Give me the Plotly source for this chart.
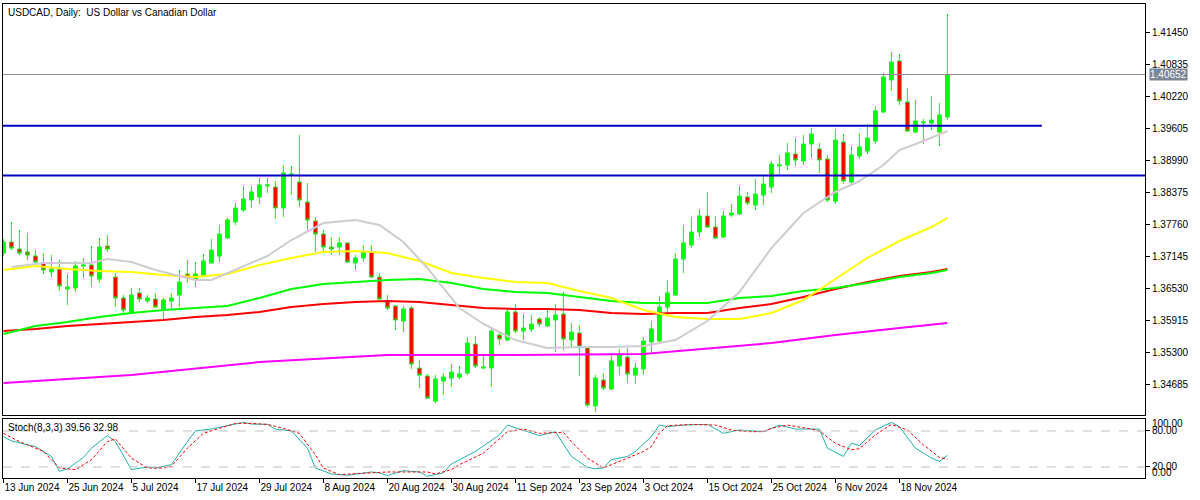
import plotly.graph_objects as go

# ---------------- data ----------------
opens = [1.37221, 1.37433, 1.37298, 1.37241, 1.37164, 1.37029, 1.36857, 1.36914, 1.36529, 1.36549,
         1.36972, 1.36991, 1.36722, 1.37356, 1.36760, 1.36357, 1.36087, 1.36453, 1.36299, 1.36337,
         1.36145, 1.36299, 1.36414, 1.36818, 1.36722, 1.36799, 1.37029, 1.37164, 1.37510, 1.37818,
         1.38048, 1.38240, 1.38298, 1.38509, 1.38490, 1.38086, 1.38720, 1.38586, 1.38201, 1.37837,
         1.37587, 1.37337, 1.37337, 1.37414, 1.37029, 1.37126, 1.37241, 1.36760, 1.36299, 1.36203,
         1.35914, 1.36164, 1.35011, 1.34857, 1.34377, 1.34761, 1.34819, 1.34838, 1.34915, 1.35472,
         1.35011, 1.35011, 1.35645, 1.35549, 1.36087, 1.35722, 1.35761, 1.35953, 1.35818, 1.35934,
         1.36049, 1.35549, 1.35684, 1.35395, 1.34281, 1.34780, 1.34607, 1.35050, 1.35222, 1.34876,
         1.34992, 1.35511, 1.35530, 1.36184, 1.36414, 1.37106, 1.37375, 1.37625, 1.37933, 1.37721,
         1.37529, 1.37952, 1.37971, 1.38298, 1.38144, 1.38336, 1.38490, 1.38894, 1.38913, 1.39124,
         1.38990, 1.39316, 1.39220, 1.39028, 1.38221, 1.39355, 1.38586, 1.39086, 1.39182, 1.39374,
         1.39931, 1.40546, 1.40912, 1.40124, 1.39547, 1.39720, 1.39720, 1.39547, 1.39836]
highs = [1.37491, 1.37818, 1.37664, 1.37606, 1.37279, 1.37221, 1.37183, 1.37087, 1.36818, 1.37068,
         1.37126, 1.37356, 1.37510, 1.37568, 1.36837, 1.36414, 1.36549, 1.36549, 1.36414, 1.36453,
         1.36357, 1.36453, 1.36895, 1.37087, 1.37049, 1.37202, 1.37491, 1.37760, 1.37894, 1.38182,
         1.38509, 1.38509, 1.38663, 1.38663, 1.38605, 1.38913, 1.38894, 1.39489, 1.38567, 1.37914,
         1.37664, 1.37529, 1.37529, 1.37433, 1.37183, 1.37375, 1.37375, 1.36837, 1.36414, 1.36222,
         1.36203, 1.36203, 1.35165, 1.34896, 1.34876, 1.34915, 1.35088, 1.35050, 1.35607, 1.35626,
         1.35261, 1.35799, 1.35722, 1.36164, 1.36241, 1.36049, 1.36030, 1.35991, 1.36164, 1.36241,
         1.36472, 1.35876, 1.35838, 1.35415, 1.34876, 1.34915, 1.35261, 1.35376, 1.35395, 1.35107,
         1.35607, 1.35914, 1.36395, 1.36703, 1.37221, 1.37760, 1.37914, 1.38067, 1.38394, 1.37933,
         1.38029, 1.38163, 1.38509, 1.38394, 1.38644, 1.38721, 1.38990, 1.39105, 1.39336, 1.39432,
         1.39489, 1.39624, 1.39336, 1.39105, 1.39605, 1.39508, 1.39278, 1.39528, 1.39701, 1.40047,
         1.40681, 1.41084, 1.41046, 1.40393, 1.40162, 1.39797, 1.40239, 1.40105, 1.41815]
lows = [1.37164, 1.37279, 1.37183, 1.37087, 1.37029, 1.36818, 1.36760, 1.36491, 1.36222, 1.36472,
        1.36741, 1.36568, 1.36645, 1.37241, 1.36184, 1.36068, 1.36068, 1.36280, 1.36260, 1.36164,
        1.35934, 1.36126, 1.36184, 1.36645, 1.36568, 1.36760, 1.37029, 1.37049, 1.37491, 1.37760,
        1.38009, 1.38086, 1.38163, 1.38375, 1.37875, 1.37914, 1.38336, 1.38105, 1.37664, 1.37241,
        1.37241, 1.37183, 1.37183, 1.37029, 1.36895, 1.37049, 1.36741, 1.36318, 1.36126, 1.35741,
        1.35703, 1.34992, 1.34627, 1.34415, 1.34338, 1.34492, 1.34646, 1.34800, 1.34876, 1.35011,
        1.34992, 1.34646, 1.35453, 1.35530, 1.35684, 1.35549, 1.35703, 1.35799, 1.35799, 1.35318,
        1.35357, 1.35395, 1.34857, 1.34261, 1.34166, 1.34588, 1.34588, 1.34876, 1.34723, 1.34703,
        1.34876, 1.35299, 1.35511, 1.35991, 1.36395, 1.36837, 1.37317, 1.37529, 1.37702, 1.37491,
        1.37510, 1.37914, 1.37952, 1.38144, 1.38048, 1.38144, 1.38375, 1.38721, 1.38817, 1.38894,
        1.38913, 1.39047, 1.38759, 1.38201, 1.38163, 1.38547, 1.38509, 1.39028, 1.39124, 1.39316,
        1.39912, 1.40335, 1.40066, 1.39547, 1.39528, 1.39317, 1.39585, 1.39278, 1.39778]
closes = [1.37433, 1.37317, 1.37221, 1.37183, 1.37049, 1.36895, 1.36914, 1.36587, 1.36568, 1.36972,
          1.36991, 1.36780, 1.37337, 1.37298, 1.36357, 1.36126, 1.36414, 1.36337, 1.36357, 1.36184,
          1.36318, 1.36357, 1.36664, 1.36741, 1.36818, 1.37068, 1.37279, 1.37587, 1.37856, 1.38086,
          1.38259, 1.38394, 1.38528, 1.38528, 1.38086, 1.38759, 1.38740, 1.38240, 1.37856, 1.37587,
          1.37337, 1.37298, 1.37414, 1.37049, 1.37126, 1.37241, 1.36760, 1.36337, 1.36164, 1.35934,
          1.36145, 1.35088, 1.34876, 1.34434, 1.34800, 1.34838, 1.34934, 1.34896, 1.35492, 1.35050,
          1.35030, 1.35722, 1.35568, 1.36087, 1.35722, 1.35780, 1.35857, 1.35857, 1.35972, 1.36030,
          1.35568, 1.35703, 1.35415, 1.34300, 1.34819, 1.34627, 1.35145, 1.35261, 1.34896, 1.35011,
          1.35530, 1.35761, 1.36184, 1.36453, 1.37106, 1.37414, 1.37625, 1.37933, 1.37721, 1.37510,
          1.37933, 1.37991, 1.38317, 1.38182, 1.38355, 1.38547, 1.38932, 1.38913, 1.39144, 1.39009,
          1.39316, 1.39508, 1.39009, 1.38240, 1.39393, 1.38605, 1.39105, 1.39259, 1.39432, 1.39951,
          1.40604, 1.40892, 1.40143, 1.39566, 1.39759, 1.39739, 1.39778, 1.39874, 1.40652]

tick_bars = [0, 8, 16, 24, 32, 40, 48, 56, 64, 72, 80, 88, 96, 104, 112]
tick_labels = ["13 Jun 2024", "25 Jun 2024", "5 Jul 2024", "17 Jul 2024", "29 Jul 2024",
               "8 Aug 2024", "20 Aug 2024", "30 Aug 2024", "11 Sep 2024", "23 Sep 2024",
               "3 Oct 2024", "15 Oct 2024", "25 Oct 2024", "6 Nov 2024", "18 Nov 2024"]
price_ticks = [1.34685, 1.35300, 1.35915, 1.36530, 1.37145, 1.37760,
               1.38375, 1.38990, 1.39605, 1.40220, 1.40835, 1.41450]

gray_bars = [1, 5, 8, 11, 13, 14, 16, 19, 22, 24, 26, 29, 33, 36, 40, 44, 47, 50, 53, 57,
             60, 64, 68, 72, 76, 80, 84, 88, 92, 96, 100, 104, 107, 110, 112, 115, 118]
gray_vals = [1.36953, 1.37029, 1.37029, 1.37029, 1.37106, 1.37087, 1.37049, 1.36895, 1.36780, 1.36703,
             1.36703, 1.36895, 1.37164, 1.37471, 1.37798, 1.37856, 1.37760, 1.37433, 1.36934, 1.36164,
             1.35857, 1.35549, 1.35395, 1.35415, 1.35415, 1.35434, 1.35549, 1.35914, 1.36472, 1.37317,
             1.37990, 1.38394, 1.38605, 1.38913, 1.39201, 1.39374, 1.39566]
ma_bars = [0, 4, 8, 12, 16, 20, 24, 28, 32, 36, 40, 44, 48, 52, 56, 60, 64, 68, 72, 76,
           80, 84, 88, 92, 96, 100, 104, 108, 112, 116, 118]
yellow_vals = [1.36895, 1.36972, 1.36914, 1.36876, 1.36857, 1.36799, 1.36760, 1.36818, 1.36991, 1.37126,
               1.37241, 1.37260, 1.37221, 1.37068, 1.36837, 1.36741, 1.36664, 1.36645, 1.36491, 1.36357,
               1.36126, 1.35991, 1.35953, 1.35953, 1.36068, 1.36318, 1.36722, 1.37126, 1.37452, 1.37721,
               1.37894]
lime_vals = [1.35664, 1.35818, 1.35895, 1.35991, 1.36068, 1.36126, 1.36164, 1.36203, 1.36357, 1.36529,
             1.36626, 1.36664, 1.36703, 1.36722, 1.36645, 1.36529, 1.36472, 1.36453, 1.36376, 1.36299,
             1.36260, 1.36260, 1.36260, 1.36357, 1.36395, 1.36491, 1.36549, 1.36645, 1.36760, 1.36837,
             1.36895]
red_vals = [1.35722, 1.35761, 1.35818, 1.35857, 1.35895, 1.35934, 1.35991, 1.36030, 1.36087, 1.36184,
            1.36241, 1.36280, 1.36299, 1.36280, 1.36222, 1.36164, 1.36145, 1.36145, 1.36126, 1.36068,
            1.36049, 1.36068, 1.36068, 1.36164, 1.36241, 1.36376, 1.36529, 1.36664, 1.36780, 1.36857,
            1.36914]
magenta_bars = [0, 16, 32, 48, 64, 80, 96, 104, 112, 118]
magenta_vals = [1.34723, 1.34876, 1.35126, 1.35261, 1.35261, 1.35280, 1.35492, 1.35645, 1.35780, 1.35876]

blue_levels = [1.39668, 1.38709]
blue_starts = [-0.05, -0.05]
blue_ends = [129.8, 142.7]

k_bars = [0, 1, 4, 6, 7, 8, 10, 11, 13, 14, 16, 18, 19, 21, 23, 24, 26, 28, 30, 31,
          33, 34, 36, 38, 39, 41, 43, 46, 47, 48, 50, 52, 53, 55, 56, 59, 62, 63, 65, 67,
          69, 71, 73, 74, 75, 76, 78, 79, 81, 82, 83, 85, 88, 90, 92, 95, 97, 99, 102, 103,
          105, 106, 107, 109, 111, 112, 114, 116, 117, 118]
k_vals = [70.6, 63.5, 54.0, 37.6, 12.8, 16.7, 36.0, 51.4, 72.3, 62.4, 15.6, 20.0, 18.3, 23.9, 62.4, 80.0, 83.3, 88.3, 94.3, 91.6,
          91.0, 83.3, 80.0, 51.4, 18.3, 8.4, 6.2, 11.7, 10.1, 5.7, 13.9, 11.7, 4.6, 10.1, 25.0, 45.9, 73.4, 89.9, 81.7, 72.3,
          78.9, 37.6, 19.4, 17.0, 18.3, 32.1, 37.6, 45.9, 70.6, 89.9, 87.2, 89.9, 91.0, 76.1, 81.7, 78.9, 89.9, 83.3, 83.3, 51.4,
          37.6, 59.6, 55.8, 81.7, 94.3, 87.2, 51.4, 34.9, 29.4, 39.56]
d_bars = [0, 2, 5, 7, 9, 11, 13, 14, 16, 18, 20, 21, 23, 25, 27, 29, 31, 33, 35, 37,
          39, 40, 42, 45, 48, 50, 53, 54, 56, 57, 60, 63, 65, 67, 70, 71, 73, 75, 76, 78,
          80, 81, 82, 83, 86, 89, 91, 93, 95, 96, 98, 101, 102, 104, 106, 107, 109, 111, 113, 115,
          116, 117, 118]
d_vals = [76.1, 62.4, 45.9, 18.3, 15.6, 32.1, 62.4, 66.8, 34.9, 18.3, 18.3, 21.1, 51.4, 76.1, 84.4, 92.7, 92.7, 91.0, 84.4, 76.1,
          40.4, 18.3, 7.3, 10.1, 11.7, 11.7, 11.7, 8.4, 15.6, 23.9, 43.1, 78.9, 83.3, 76.1, 77.8, 62.4, 34.9, 18.3, 23.9, 34.9,
          45.9, 54.1, 76.1, 88.8, 91.0, 89.9, 81.7, 78.9, 78.9, 84.4, 89.9, 83.3, 80.0, 59.6, 48.7, 50.5, 73.4, 91.0, 81.7, 56.9,
          45.9, 36.0, 32.98]
stoch_levels = [20, 80]
stoch_label_vals = [20, 80]

# ---------------- figure ----------------
FONT = "Liberation Sans"
bars = list(range(len(opens)))
x_range = [-0.05, 142.7]

fig = go.Figure()

fig.add_trace(go.Candlestick(
    x=bars, open=opens, high=highs, low=lows, close=closes,
    increasing=dict(line=dict(color="#00FF00", width=1), fillcolor="#00FF00"),
    decreasing=dict(line=dict(color="#00FF00", width=1), fillcolor="#FF0000"),
    whiskerwidth=0, xaxis="x", yaxis="y", showlegend=False, hoverinfo="skip"))

for xs, ys, col in [(magenta_bars, magenta_vals, "#FF00FF"),
                    (ma_bars, red_vals, "#FF0000"),
                    (ma_bars, lime_vals, "#00FF00"),
                    (ma_bars, yellow_vals, "#FFFF00"),
                    (gray_bars, gray_vals, "#CDCDCD")]:
    fig.add_trace(go.Scatter(x=xs, y=ys, mode="lines", line=dict(color=col, width=2),
                             xaxis="x", yaxis="y", showlegend=False, hoverinfo="skip"))

for lvl, x0, x1 in zip(blue_levels, blue_starts, blue_ends):
    fig.add_trace(go.Scatter(x=[x0, x1], y=[lvl, lvl], mode="lines",
                             line=dict(color="#0000C0", width=2),
                             xaxis="x", yaxis="y", showlegend=False, hoverinfo="skip"))

# current price line
fig.add_shape(type="line", xref="x domain", yref="y", x0=0, x1=1, y0=closes[-1], y1=closes[-1],
              line=dict(color="#8C8C8C", width=1))

# stochastic
for lv in stoch_levels:
    fig.add_shape(type="line", xref="x2 domain", yref="y2", x0=0, x1=1, y0=lv, y1=lv,
                  line=dict(color="#C0C0C0", width=1, dash="dash"))
fig.add_trace(go.Scatter(x=k_bars, y=k_vals, mode="lines", line=dict(color="#20B2AA", width=1),
                         xaxis="x2", yaxis="y2", showlegend=False, hoverinfo="skip"))
fig.add_trace(go.Scatter(x=d_bars, y=d_vals, mode="lines", line=dict(color="#FF0000", width=1, dash="3px,2px"),
                         xaxis="x2", yaxis="y2", showlegend=False, hoverinfo="skip"))

axis_common = dict(showgrid=False, zeroline=False, showline=True, mirror=True,
                   linecolor="black", linewidth=1, automargin=False)

fig.update_layout(
    width=1200, height=500,
    margin=dict(l=3, r=55, t=4, b=22),
    paper_bgcolor="white", plot_bgcolor="white",
    showlegend=False,
    font=dict(family=FONT, size=10, color="black"),
    xaxis=dict(domain=[0, 1], anchor="y", range=x_range, showticklabels=False, ticks="",
               rangeslider=dict(visible=False), **axis_common),
    yaxis=dict(domain=[0.1319, 1], anchor="x", side="right", range=[1.34099, 1.42007],
               tickvals=price_ticks, ticktext=["%.5f" % v for v in price_ticks],
               ticks="outside", ticklen=4, tickcolor="black",
               tickfont=dict(family=FONT, size=10, color="black"), **axis_common),
    xaxis2=dict(domain=[0, 1], anchor="y2", range=x_range, tickvals=tick_bars, ticktext=tick_labels,
                ticks="outside", ticklen=4, tickcolor="black", ticklabelposition="outside right",
                tickangle=0,
                tickfont=dict(family=FONT, size=10, color="black"), **axis_common),
    yaxis2=dict(domain=[0, 0.1245], anchor="x2", side="right", range=[1.67, 100],
                tickvals=stoch_label_vals, ticktext=["%.2f" % v for v in stoch_label_vals],
                ticks="outside", ticklen=4, tickcolor="black",
                tickfont=dict(family=FONT, size=10, color="black"), **axis_common),
)

annotations = [
    dict(text="USDCAD, Daily:  US Dollar vs Canadian Dollar", xref="paper", yref="paper",
         x=0, y=1, xanchor="left", yanchor="top", xshift=3, yshift=-1, showarrow=False,
         font=dict(family=FONT, size=10, color="black")),
    dict(text="Stoch(8,3,3) 39.56 32.98", xref="paper", yref="paper",
         x=0, y=0.1245, xanchor="left", yanchor="top", xshift=3, yshift=-1, showarrow=False,
         font=dict(family=FONT, size=10, color="black")),
    dict(text="1.40652", xref="paper", yref="y", x=1, y=closes[-1], xanchor="left", yanchor="middle",
         xshift=4, showarrow=False, bgcolor="#7A8595", borderpad=0,
         font=dict(family=FONT, size=10, color="white")),
    dict(text="100.00", xref="paper", yref="y2", x=1, y=93, xanchor="left", yanchor="middle",
         xshift=5, showarrow=False, font=dict(family=FONT, size=10, color="black")),
    dict(text="0.00", xref="paper", yref="y2", x=1, y=10, xanchor="left", yanchor="middle",
         xshift=5, showarrow=False, font=dict(family=FONT, size=10, color="black")),
]
fig.update_layout(annotations=annotations)

fig.write_html("out.html",
               config={"displayModeBar": False, "staticPlot": True},
               post_script="document.body.style.margin='0';document.body.style.overflow='hidden';")
